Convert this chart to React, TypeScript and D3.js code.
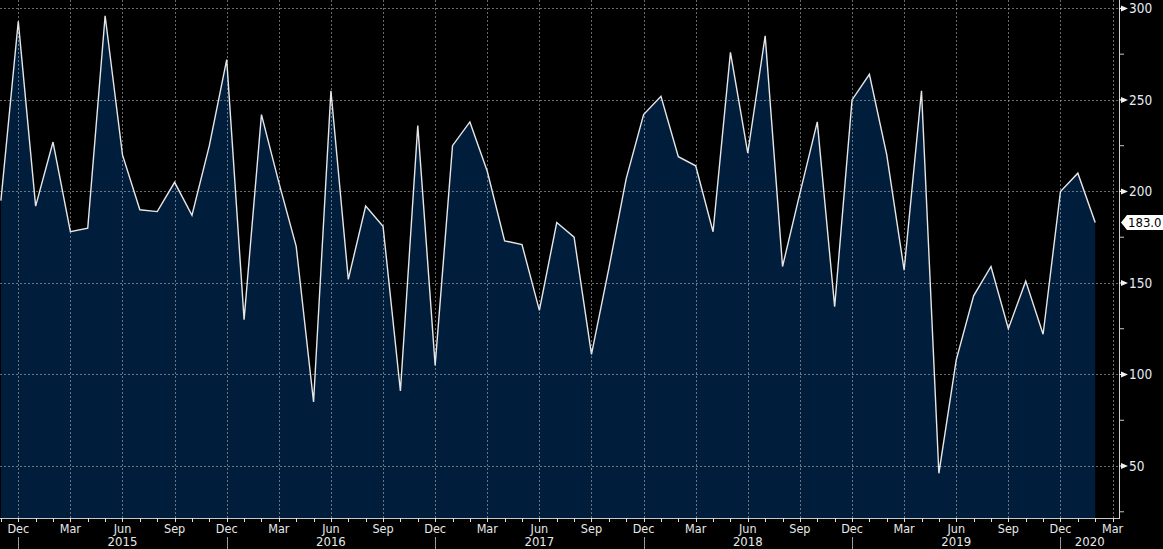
import * as d3 from "d3";

// monthly values, Nov 2014 .. Feb 2020
const firstMonth = new Date(Date.UTC(2014, 10, 1));
const values = [
  195, 293, 192, 227, 178, 180, 296, 220, 190, 189,
  205, 187, 225, 272, 130, 242, 205, 170, 85, 255,
  152, 192, 181, 91, 236, 105, 225, 238, 211, 173,
  171, 135, 183, 175, 111, 158, 207, 242, 252, 219,
  214, 178, 276, 221, 285, 159, 199, 238, 137, 250,
  264, 220, 157, 255, 46, 108, 143, 159, 125, 151,
  122, 200, 210, 183,
];
const yTicks = [50, 100, 150, 200, 250, 300];
const yMinorTicks = [25, 75, 125, 175, 225, 275];
const quarterMonths = ["Dec", "Mar", "Jun", "Sep"];
const yearLabels = ["2015", "2016", "2017", "2018", "2019", "2020"];
const lastLabel = "183.0";

const W = 1163;
const H = 549;
const plotRight = 1119;
const plotBottom = 518;
const font = "'DejaVu Sans Condensed', 'DejaVu Sans', sans-serif";

export default function App() {
  const x = d3.scaleLinear().domain([-0.052, 64.37]).range([0, plotRight]);
  const y = d3.scaleLinear().domain([21.6, 304.6]).range([plotBottom, 0]);

  const monthCount = values.length + 1; // axis runs to Mar 2020
  const months = d3.range(monthCount).map((i) => ({
    i,
    date: d3.utcMonth.offset(firstMonth, i),
  }));
  const fmtMonth = d3.utcFormat("%b");
  const quarters = months.filter((m) => quarterMonths.includes(fmtMonth(m.date)));
  const decembers = months.filter((m) => fmtMonth(m.date) === "Dec");

  const area = d3
    .area<number>()
    .x((_, i) => x(i))
    .y0(plotBottom)
    .y1((d) => y(d));
  const line = d3
    .line<number>()
    .x((_, i) => x(i))
    .y((d) => y(d));

  const grid = "rgba(176,176,176,0.6)";
  const last = values[values.length - 1];
  const ly = y(last);

  return (
    <div style={{ position: "absolute", left: 0, top: 0 }}>
      <svg width={W} height={H} style={{ display: "block", background: "#000" }}>
        <path d={area(values) || ""} fill="#011d3c" />

        {yTicks.map((t) => (
          <line
            key={"gy" + t}
            x1={0}
            x2={plotRight}
            y1={Math.round(y(t)) + 0.5}
            y2={Math.round(y(t)) + 0.5}
            stroke={grid}
            strokeDasharray="2,2"
          />
        ))}
        {quarters.map((m) => (
          <line
            key={"gx" + m.i}
            x1={Math.round(x(m.i)) + 0.5}
            x2={Math.round(x(m.i)) + 0.5}
            y1={0}
            y2={plotBottom}
            stroke={grid}
            strokeDasharray="2,2"
          />
        ))}

        <path d={line(values) || ""} fill="none" stroke="#e6e6e6" strokeWidth={1.4} strokeLinejoin="miter" />

        {/* right axis */}
        <line x1={plotRight + 0.5} x2={plotRight + 0.5} y1={0} y2={plotBottom + 1} stroke="#d0d0d0" />
        {yMinorTicks.map((t) => (
          <line key={"my" + t} x1={plotRight} x2={plotRight + 5} y1={y(t)} y2={y(t)} stroke="#c8c8c8" />
        ))}
        {yTicks.map((t) => (
          <g key={"ty" + t}>
            <path
              d={`M${plotRight},${y(t) - 0.6}L${plotRight + 2},${y(t) - 0.6}L${plotRight + 2},${y(t) - 3}L${plotRight + 9},${y(t)}L${plotRight + 2},${y(t) + 3}L${plotRight + 2},${y(t) + 0.6}L${plotRight},${y(t) + 0.6}Z`}
              fill="#f0f0f0"
            />
            <text
              x={plotRight + 10}
              y={y(t)}
              dy="0.36em"
              fill="#e4ecf6"
              fontFamily={font}
              fontSize={13.5}
            >
              {t}
            </text>
          </g>
        ))}

        {/* last value tag */}
        <path
          d={`M${plotRight + 2},${ly}L${plotRight + 8},${ly - 7.5}L${W},${ly - 7.5}L${W},${ly + 7.5}L${plotRight + 8},${ly + 7.5}Z`}
          fill="#ffffff"
        />
        <text x={plotRight + 9} y={ly} dy="0.36em" fill="#000" fontFamily={font} fontSize={13}>
          {lastLabel}
        </text>

        {/* bottom axis */}
        <line x1={0} x2={plotRight} y1={plotBottom + 0.5} y2={plotBottom + 0.5} stroke="#c8c8c8" />
        {months.map((m) => (
          <line
            key={"tx" + m.i}
            x1={Math.round(x(m.i)) + 0.5}
            x2={Math.round(x(m.i)) + 0.5}
            y1={plotBottom}
            y2={plotBottom + 4}
            stroke="#e0e0e0"
          />
        ))}
        {quarters.map((m) => (
          <text
            key={"lx" + m.i}
            x={x(m.i)}
            y={533}
            textAnchor="middle"
            fill="#e8e8e8"
            fontFamily={font}
            fontSize={12.5}
          >
            {fmtMonth(m.date)}
          </text>
        ))}
        {decembers.map((m) => (
          <line
            key={"sep" + m.i}
            x1={Math.round(x(m.i)) + 0.5}
            x2={Math.round(x(m.i)) + 0.5}
            y1={537}
            y2={H}
            stroke="#9a9a9a"
          />
        ))}
        {yearLabels.map((label, k) => {
          const start = x(decembers[k].i);
          const end = k + 1 < decembers.length ? x(decembers[k + 1].i) : plotRight;
          return (
            <text
              key={label}
              x={(start + end) / 2}
              y={546}
              textAnchor="middle"
              fill="#e8e8e8"
              fontFamily={font}
              fontSize={13}
            >
              {label}
            </text>
          );
        })}
      </svg>
    </div>
  );
}
